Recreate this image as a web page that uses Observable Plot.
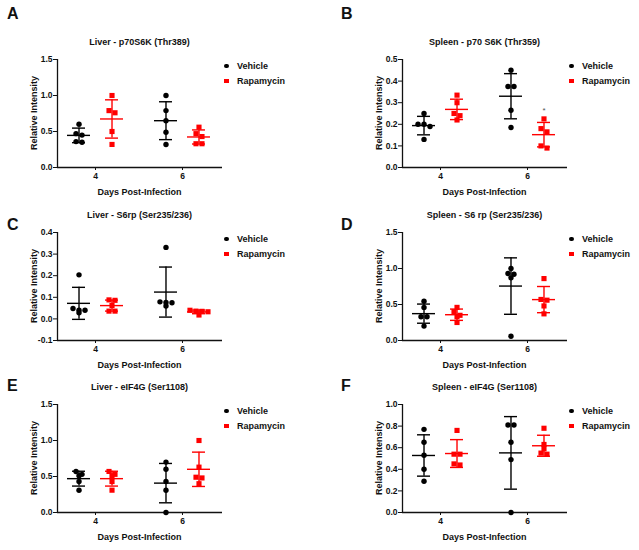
<!DOCTYPE html>
<html><head><meta charset="utf-8">
<script src="https://cdn.jsdelivr.net/npm/d3@7"></script>
<script src="https://cdn.jsdelivr.net/npm/@observablehq/plot@0.6"></script>
<style>
body{margin:0;background:#fff;}
#fig{position:relative;width:639px;height:550px;overflow:hidden;font-family:"Liberation Sans",Arial,sans-serif;font-weight:bold;color:#111;}
.abs{position:absolute;white-space:nowrap;line-height:1;}
.c{transform:translate(-50%,-50%);}
svg{position:absolute;}
</style></head><body><div id="fig"></div>
<script>
// ---------- data ----------
const days = [4, 6];
const groupNames = ["Vehicle", "Rapamycin"];
const panelLetters = ["A", "B", "C", "D", "E", "F"];
const panelTitles = [
  "Liver - p70S6K (Thr389)",
  "Spleen - p70 S6K (Thr359)",
  "Liver - S6rp (Ser235/236)",
  "Spleen - S6 rp (Ser235/236)",
  "Liver - eIF4G (Ser1108)",
  "Spleen - eIF4G (Ser1108)"
];
const xLabel = "Days Post-Infection";
const yLabel = "Relative Intensity";

// each: [day 4 values, day 6 values]
const liverP70Vehicle    = [[0.60, 0.47, 0.45, 0.36, 0.35], [1.00, 0.79, 0.65, 0.49, 0.32]];
const liverP70Rapamycin  = [[1.00, 0.79, 0.76, 0.50, 0.32], [0.56, 0.47, 0.43, 0.33, 0.33]];
const spleenP70Vehicle   = [[0.25, 0.20, 0.20, 0.19, 0.13], [0.45, 0.375, 0.375, 0.265, 0.185]];
const spleenP70Rapamycin = [[0.335, 0.30, 0.25, 0.24, 0.22], [0.225, 0.18, 0.165, 0.10, 0.09]];
const liverS6Vehicle     = [[0.204, 0.048, 0.04, 0.04, 0.028], [0.331, 0.079, 0.076, 0.075, 0.06]];
const liverS6Rapamycin   = [[0.088, 0.086, 0.062, 0.036, 0.036], [0.04, 0.036, 0.035, 0.033, 0.018]];
const spleenS6Vehicle    = [[0.545, 0.46, 0.33, 0.33, 0.20], [1.00, 0.93, 0.92, 0.87, 0.06]];
const spleenS6Rapamycin  = [[0.46, 0.40, 0.35, 0.33, 0.25], [0.86, 0.57, 0.56, 0.48, 0.37]];
const liverEIFVehicle    = [[0.57, 0.53, 0.51, 0.43, 0.31], [0.70, 0.60, 0.43, 0.31, 0.00]];
const liverEIFRapamycin  = [[0.57, 0.53, 0.51, 0.43, 0.31], [1.00, 0.63, 0.49, 0.48, 0.40]];
const spleenEIFVehicle   = [[0.77, 0.65, 0.53, 0.40, 0.29], [0.81, 0.81, 0.65, 0.49, 0.00]];
const spleenEIFRapamycin = [[0.76, 0.54, 0.54, 0.45, 0.44], [0.78, 0.63, 0.59, 0.55, 0.54]];

const yTicksA = [0, 0.5, 1.0, 1.5];
const yTicksB = [0, 0.1, 0.2, 0.3, 0.4, 0.5];
const yTicksC = [-0.1, 0, 0.1, 0.2, 0.3, 0.4];
const yTicksD = [0, 0.5, 1.0, 1.5];
const yTicksE = [0, 0.5, 1.0, 1.5];
const yTicksF = [0, 0.2, 0.4, 0.6, 0.8, 1.0];

// significance label: [panel index, group index, day index, label]
const significance = [[1, 1, 1, "*"]];

// ---------- styling / layout ----------
const colors = ["#000000", "#ff0000"];
const FONT = '"Liberation Sans", Arial, sans-serif';
const vehicleSets = [liverP70Vehicle, spleenP70Vehicle, liverS6Vehicle, spleenS6Vehicle, liverEIFVehicle, spleenEIFVehicle];
const rapaSets = [liverP70Rapamycin, spleenP70Rapamycin, liverS6Rapamycin, spleenS6Rapamycin, liverEIFRapamycin, spleenEIFRapamycin];
const tickSets = [yTicksA, yTicksB, yTicksC, yTicksD, yTicksE, yTicksF];

const colAxisX = [57, 402];
const rowAxisY = [59, 232, 404];
const letterX = [7, 341];
const letterY = [14, 225, 386];
const W = 165, H = 108, mL = 40, mR = 6, mT = 8, mB = 16;
const xDom = [3.126, 6.92];

const fig = document.getElementById("fig");
function addText(txt, x, y, size, extra = "") {
  const d = document.createElement("div");
  d.className = "abs c";
  d.textContent = txt;
  d.style.cssText += `left:${x}px;top:${y}px;font-size:${size}px;${extra}`;
  fig.appendChild(d);
  return d;
}

vehicleSets.forEach((_, i) => {
  const col = i % 2, row = Math.floor(i / 2);
  const ax = colAxisX[col], ay = rowAxisY[row];
  const ticks = tickSets[i];
  const yDom = [ticks[0], ticks[ticks.length - 1]];
  const kx = W / (xDom[1] - xDom[0]);
  const ky = H / (yDom[1] - yDom[0]);
  const off = 16.5 / kx;
  const pts = [[], []], stats = [[], []], sig = [];
  [vehicleSets[i], rapaSets[i]].forEach((vals, g) => {
    days.forEach((d, di) => {
      const arr = vals[di];
      const c = d + (g ? off : -off);
      const sorted = arr.slice().sort((a, b) => b - a);
      const rows = [];
      sorted.forEach(v => {
        const r = rows[rows.length - 1];
        if (r && (r[0] - v) * ky < 4) r.push(v); else rows.push([v]);
      });
      rows.forEach(r => r.forEach((v, k) => pts[g].push({x: c + (k - (r.length - 1) / 2) * 6 / kx, y: v})));
      const mean = d3.mean(arr), sd = d3.deviation(arr);
      stats[g].push({c, mean, sd});
      significance.forEach(s => {
        if (s[0] === i && s[1] === g && s[2] === di) sig.push({x: c, y: Math.max(d3.max(arr), mean + sd), label: s[3]});
      });
    });
  });

  const marks = [
    Plot.ruleX([xDom[0]], {stroke: "#111", strokeWidth: 1.3}),
    Plot.ruleY([yDom[0]], {stroke: "#111", strokeWidth: 1.3})
  ];
  [0, 1].forEach(g => {
    marks.push(Plot.dot(pts[g], {x: "x", y: "y", r: g ? 2.9 : 2.7, fill: colors[g], stroke: "none", symbol: g ? "square" : "circle"}));
  });
  [0, 1].forEach(g => {
    const st = stats[g];
    const sty = {stroke: colors[g], strokeWidth: 1.4};
    marks.push(Plot.ruleX(st, {x: "c", y1: d => d.mean - d.sd, y2: d => d.mean + d.sd, ...sty}));
    marks.push(Plot.ruleY(st, {y: "mean", x1: d => d.c - 11.5 / kx, x2: d => d.c + 11.5 / kx, ...sty}));
    marks.push(Plot.ruleY(st, {y: d => d.mean + d.sd, x1: d => d.c - 6.5 / kx, x2: d => d.c + 6.5 / kx, ...sty}));
    marks.push(Plot.ruleY(st, {y: d => d.mean - d.sd, x1: d => d.c - 6.5 / kx, x2: d => d.c + 6.5 / kx, ...sty}));
  });
  marks.push(Plot.text(sig, {x: "x", y: "y", text: "label", dy: -8, fontSize: 8, fill: "#555", fontWeight: "normal"}));

  const svg = Plot.plot({
    width: mL + W + mR, height: mT + H + mB,
    marginLeft: mL, marginRight: mR, marginTop: mT, marginBottom: mB,
    x: {domain: xDom, ticks: days, tickSize: 3, tickPadding: 2, tickFormat: d => String(d), label: null},
    y: {domain: yDom, ticks: ticks, tickSize: 4, tickPadding: 1, tickFormat: d => d.toFixed(1), label: null},
    style: {fontFamily: FONT, fontSize: "8.5px", fontWeight: "bold", color: "#111", background: "transparent", overflow: "visible"},
    marks
  });
  svg.style.left = (ax - mL) + "px";
  svg.style.top = (ay - mT) + "px";
  fig.appendChild(svg);

  // text: letter, title, axis labels, legend
  addText(panelLetters[i], letterX[col], letterY[row], 16, "transform:translate(0,-50%);font-size:16px;");
  addText(panelTitles[i], ax + W / 2, ay - 17, 9);
  addText(xLabel, ax + W / 2, ay + H + 25, 9);
  addText(yLabel, ax - 23, ay + H / 2, 9, "transform:translate(-50%,-50%) rotate(-90deg);");
  groupNames.forEach((name, g) => {
    const ly = ay + 7 + g * 15;
    const m = document.createElement("div");
    m.className = "abs";
    m.style.cssText = `left:${ax + W + 2}px;top:${ly - 2.4}px;width:4.8px;height:4.8px;background:${colors[g]};border-radius:${g ? 0 : 50}%;`;
    fig.appendChild(m);
    addText(name, ax + W + 15, ly, 9, "transform:translate(0,-50%);");
  });
});
</script></body></html>
